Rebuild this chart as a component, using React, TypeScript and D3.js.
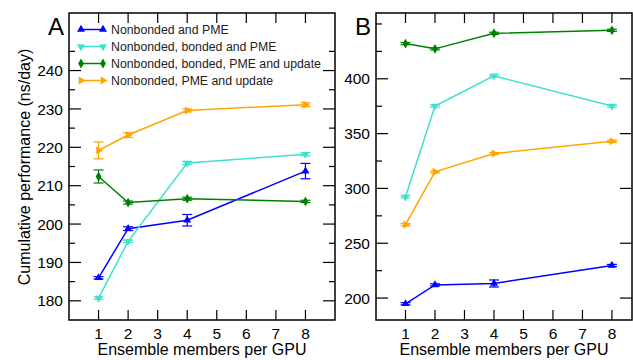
import * as d3 from 'd3';

const members = [1, 2, 4, 8];
const seriesNames = [
  'Nonbonded and PME',
  'Nonbonded, bonded and PME',
  'Nonbonded, bonded, PME and update',
  'Nonbonded, PME and update',
];
const colors = ['#0000ff', '#40e0d0', '#008000', '#ffa500'];
const shapes = ['up', 'down', 'diamond', 'right'];

// panel A values and errors
const aBlue = [186.0, 198.8, 201.0, 213.8];
const aBlueErr = [0.3, 0.5, 1.5, 2.0];
const aCyan = [180.7, 195.5, 215.9, 218.2];
const aCyanErr = [0.3, 0.3, 0.4, 0.4];
const aGreen = [212.4, 205.6, 206.6, 205.9];
const aGreenErr = [1.7, 0.4, 0.4, 0.3];
const aOrange = [219.2, 223.2, 229.6, 231.1];
const aOrangeErr = [2.2, 0.6, 0.4, 0.5];

// panel B values and errors
const bBlue = [194.8, 212.0, 213.3, 229.7];
const bBlueErr = [1.0, 1.0, 3.2, 1.0];
const bCyan = [292.4, 375.1, 402.7, 375.1];
const bCyanErr = [1.0, 1.0, 1.0, 1.0];
const bGreen = [432.1, 427.3, 441.5, 444.2];
const bGreenErr = [1.0, 1.0, 1.0, 1.0];
const bOrange = [266.9, 315.1, 331.8, 343.0];
const bOrangeErr = [1.0, 1.0, 1.0, 1.0];

const xTicks = [1, 2, 3, 4, 5, 6, 7, 8];
const aTicks = [180, 190, 200, 210, 220, 230, 240];
const bTicks = [200, 250, 300, 350, 400];

const FONT = '"Liberation Sans", Arial, Helvetica, sans-serif';

function marker(shape: string, size: number) {
  const type = shape === 'diamond' ? d3.symbolDiamond : d3.symbolTriangle;
  return d3.symbol().type(type).size(size)() as string;
}
function rot(shape: string) {
  if (shape === 'down') return 180;
  if (shape === 'right') return 90;
  return 0;
}

type Panel = {
  label: string;
  left: number;
  right: number;
  xMax: number;
  yDomain: [number, number];
  majors: number[];
  minors: number[];
  rightMinors: boolean;
  vals: number[][];
  errs: number[][];
  legend: boolean;
};

const top = 13;
const bottom = 320;

function PanelView({ p }: { p: Panel }) {
  const x = d3.scaleLinear().domain([0, p.xMax]).range([p.left, p.right]);
  const y = d3.scaleLinear().domain(p.yDomain).range([bottom, top]);
  const line = d3
    .line<number>()
    .x((_, i) => x(members[i]))
    .y((d) => y(d));
  return (
    <g>
      {p.minors.map((t) => (
        <g key={'mi' + t}>
          <line x1={p.left} x2={p.left + 6} y1={y(t)} y2={y(t)} stroke="#000" strokeWidth={1.2} />
          {p.rightMinors && (
            <line x1={p.right - 6} x2={p.right} y1={y(t)} y2={y(t)} stroke="#000" strokeWidth={1.2} />
          )}
        </g>
      ))}
      {p.majors.map((t) => (
        <g key={'ma' + t}>
          <line x1={p.left} x2={p.left + 12} y1={y(t)} y2={y(t)} stroke="#000" strokeWidth={1.2} />
          <line x1={p.right - 12} x2={p.right} y1={y(t)} y2={y(t)} stroke="#000" strokeWidth={1.2} />
          <text x={p.left - 6} y={y(t)} dy="0.36em" textAnchor="end" fontSize={15.5} fontFamily={FONT} fill="#000">
            {t}
          </text>
        </g>
      ))}
      {xTicks.map((t) => (
        <g key={'x' + t}>
          <line x1={x(t)} x2={x(t)} y1={top} y2={top + 10} stroke="#000" strokeWidth={1.2} />
          <line x1={x(t)} x2={x(t)} y1={bottom} y2={bottom - 10} stroke="#000" strokeWidth={1.2} />
          <text x={x(t)} y={339} textAnchor="middle" fontSize={15.5} fontFamily={FONT} fill="#000">
            {t}
          </text>
        </g>
      ))}
      {p.vals.map((vals, s) => (
        <g key={'s' + s}>
          <path d={line(vals) as string} fill="none" stroke={colors[s]} strokeWidth={1.5} />
          {vals.map((v, i) => {
            const cx = x(members[i]);
            const e = p.errs[s][i];
            return (
              <g key={i} stroke={colors[s]} strokeWidth={1.2}>
                <line x1={cx} x2={cx} y1={y(v - e)} y2={y(v + e)} />
                <line x1={cx - 5} x2={cx + 5} y1={y(v - e)} y2={y(v - e)} />
                <line x1={cx - 5} x2={cx + 5} y1={y(v + e)} y2={y(v + e)} />
                <path
                  d={marker(shapes[s], 28)}
                  transform={`translate(${cx},${y(v)}) rotate(${rot(shapes[s])})`}
                  fill={colors[s]}
                  stroke="none"
                />
              </g>
            );
          })}
        </g>
      ))}
      <rect x={p.left} y={top} width={p.right - p.left} height={bottom - top} fill="none" stroke="#000" strokeWidth={1.5} />
      <text x={p.left - 21} y={35} fontSize={24} fontFamily={FONT} fill="#000">
        {p.label}
      </text>
      <text x={(p.left + p.right) / 2} y={355} textAnchor="middle" fontSize={16} fontFamily={FONT} fill="#000">
        Ensemble members per GPU
      </text>
      {p.legend &&
        seriesNames.map((n, s) => {
          const ly = 29.5 + s * 17;
          return (
            <g key={n}>
              <line x1={81} x2={103} y1={ly} y2={ly} stroke={colors[s]} strokeWidth={1.5} />
              {[81, 103].map((lx) => (
                <path
                  key={lx}
                  d={marker(shapes[s], 28)}
                  transform={`translate(${lx},${ly}) rotate(${rot(shapes[s])})`}
                  fill={colors[s]}
                />
              ))}
              <text x={111} y={ly} dy="0.36em" fontSize={12.3} fontFamily={FONT} fill="#222">
                {n}
              </text>
            </g>
          );
        })}
    </g>
  );
}

const panelA: Panel = {
  label: 'A',
  left: 69,
  right: 335,
  xMax: 9,
  yDomain: [175, 255],
  majors: aTicks,
  minors: d3.range(185, 255, 10),
  rightMinors: true,
  vals: [aBlue, aCyan, aGreen, aOrange],
  errs: [aBlueErr, aCyanErr, aGreenErr, aOrangeErr],
  legend: true,
};

const panelB: Panel = {
  label: 'B',
  left: 376,
  right: 632,
  xMax: 8.68,
  yDomain: [180, 460],
  majors: bTicks,
  minors: [225, 275, 325, 375, 425, 450],
  rightMinors: false,
  vals: [bBlue, bCyan, bGreen, bOrange],
  errs: [bBlueErr, bCyanErr, bGreenErr, bOrangeErr],
  legend: false,
};

export default function App() {
  return (
    <svg width={633} height={360} style={{ position: 'absolute', left: 0, top: 0, background: '#fff' }}>
      <rect width={633} height={360} fill="#fff" />
      <text
        transform="translate(30,167) rotate(-90)"
        textAnchor="middle"
        fontSize={16}
        fontFamily={FONT}
        fill="#000"
      >
        Cumulative performance (ns/day)
      </text>
      <PanelView p={panelA} />
      <PanelView p={panelB} />
    </svg>
  );
}
